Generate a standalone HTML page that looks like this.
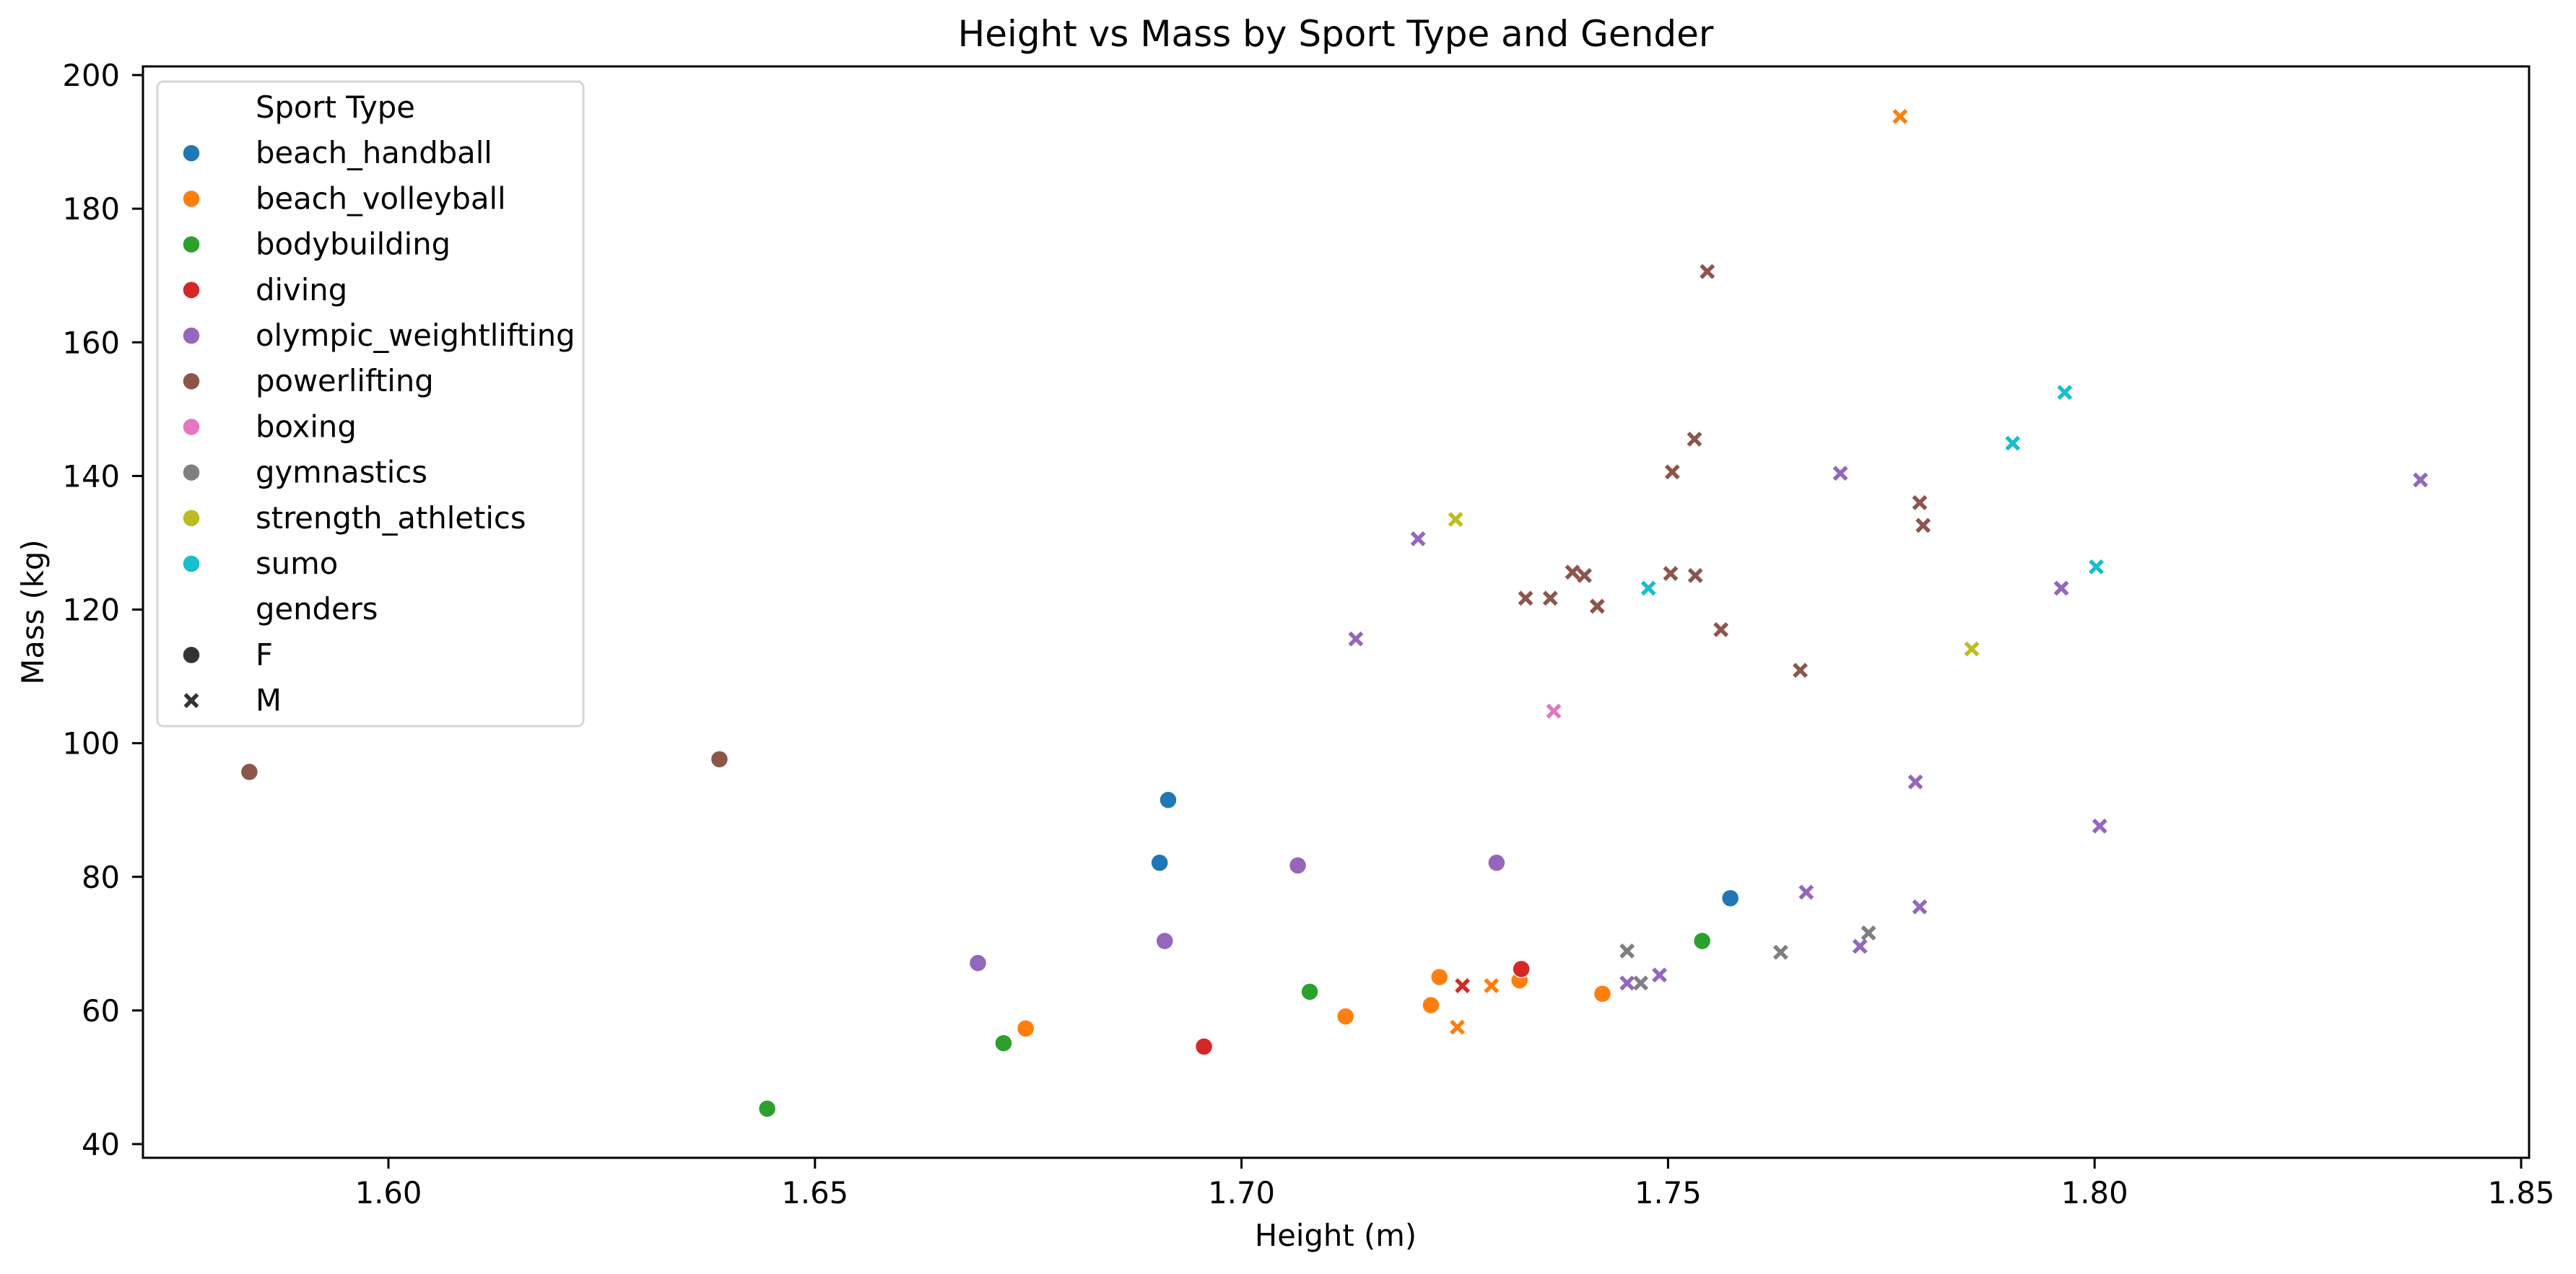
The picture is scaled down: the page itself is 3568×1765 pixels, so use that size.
<!DOCTYPE html>
<html><head><meta charset="utf-8"><style>
html,body{margin:0;padding:0;background:#fff}
svg{display:block;font-family:"DejaVu Sans","Liberation Sans",sans-serif}
</style></head><body>
<svg id="chart" width="3568" height="1765" viewBox="0 0 3568 1765" xmlns="http://www.w3.org/2000/svg">
<rect width="3568" height="1765" fill="#fff"/>
<text x="1850" y="64" font-size="50" text-anchor="middle">Height vs Mass by Sport Type and Gender</text>
<g id="marks"></g>
<g id="axes"></g>
<text x="1850" y="1726" font-size="41.7" text-anchor="middle">Height (m)</text>
<text transform="translate(60,848) rotate(-90)" font-size="41.7" text-anchor="middle">Mass (kg)</text>
<g id="legend"></g>
</svg>
<script>
const sports = ["beach_handball","beach_volleyball","bodybuilding","diving","olympic_weightlifting","powerlifting","boxing","gymnastics","strength_athletics","sumo"];
const colors = ["#1f77b4","#ff7f0e","#2ca02c","#d62728","#9467bd","#8c564b","#e377c2","#7f7f7f","#bcbd22","#17becf"];
const xTicks = [1.60,1.65,1.70,1.75,1.80,1.85];
const yTicks = [40,60,80,100,120,140,160,180,200];
const pointSport = [5,5,0,0,0,4,4,4,4,2,2,2,2,1,1,1,1,1,1,3,3,
 1,1,1,3,5,5,5,5,5,5,5,5,5,5,5,5,5,5,4,4,4,4,4,4,4,4,4,4,4,4,7,7,7,7,8,8,9,9,9,9,6];
const pointGender = ["F","F","F","F","F","F","F","F","F","F","F","F","F","F","F","F","F","F","F","F","F",
 "M","M","M","M","M","M","M","M","M","M","M","M","M","M","M","M","M","M","M","M","M","M","M","M","M","M","M","M","M","M","M","M","M","M","M","M","M","M","M","M","M"];
const heights = [1.5837,1.6388,1.6914,1.6904,1.7573,1.7066,1.7299,1.6691,1.6910,1.6444,1.6721,1.7080,1.7540,1.6747,1.7122,1.7222,1.7232,1.7326,1.7423,1.6956,1.7328,
 1.7772,1.7293,1.7253,1.7259,1.7546,1.7531,1.7505,1.7388,1.7402,1.7362,1.7333,1.7417,1.7503,1.7532,1.7562,1.7655,1.7795,1.7799,1.7207,1.7134,1.7702,1.8382,1.7961,1.7790,1.8006,1.7662,1.7795,1.7725,1.7452,1.7490,1.7452,1.7468,1.7632,1.7735,1.7251,1.7856,1.7965,1.7904,1.7477,1.8002,1.7366];
const masses = [95.7,97.6,91.5,82.1,76.8,81.7,82.1,67.1,70.4,45.3,55.1,62.8,70.4,57.3,59.1,60.8,65.0,64.5,62.5,54.6,66.2,
 193.8,63.7,57.5,63.7,170.6,145.5,140.6,125.6,125.1,121.7,121.7,120.5,125.4,125.1,117.0,110.9,136.0,132.6,130.6,115.6,140.4,139.4,123.2,94.2,87.6,77.7,75.5,69.6,64.1,65.3,68.9,64.1,68.7,71.6,133.5,114.1,152.5,144.9,123.2,126.4,104.8];

const NS="http://www.w3.org/2000/svg";
const L=198,R=3503,T=92,B=1604;
function xs(v){return 538+(v-1.60)/0.25*(3492-538);}
function ys(v){return 1585-(v-40)/160*(1585-104);}
function mk(tag,attrs,parent){const e=document.createElementNS(NS,tag);for(const k in attrs)e.setAttribute(k,attrs[k]);parent.appendChild(e);return e;}
function circle(parent,cx,cy,col){return mk("circle",{cx:cx,cy:cy,r:12,fill:col,stroke:"#fff","stroke-width":1.5},parent);}
function cross(parent,cx,cy,col){
  const g=mk("g",{},parent);
  const d=8.5;
  mk("path",{d:`M${cx-d},${cy-d}L${cx+d},${cy+d}M${cx-d},${cy+d}L${cx+d},${cy-d}`,stroke:col,"stroke-width":5.5,"stroke-linecap":"butt",fill:"none"},g);
  return g;
}
const marks=document.getElementById("marks");
for(let i=0;i<heights.length;i++){
  const col=colors[pointSport[i]];
  const e = pointGender[i]==="F"?circle(marks,xs(heights[i]),ys(masses[i]),col):cross(marks,xs(heights[i]),ys(masses[i]),col);
  
  
}
const axes=document.getElementById("axes");
mk("rect",{x:L,y:T,width:R-L,height:B-T,fill:"none",stroke:"#000","stroke-width":3},axes);
xTicks.forEach(t=>{
  const x=xs(t);
  mk("line",{x1:x,y1:B,x2:x,y2:B+15,stroke:"#000","stroke-width":3},axes);
  const tx=mk("text",{x:x,y:1667,"font-size":41.7,"text-anchor":"middle"},axes);
  tx.textContent=t.toFixed(2);
  
  
});
yTicks.forEach(t=>{
  const y=ys(t);
  mk("line",{x1:L,y1:y,x2:L-15,y2:y,stroke:"#000","stroke-width":3},axes);
  const tx=mk("text",{x:166,y:y+15,"font-size":41.7,"text-anchor":"end"},axes);
  tx.textContent=String(t);
  
  
});
const lg=document.getElementById("legend");
mk("rect",{x:218,y:113,width:590,height:893,rx:8,fill:"#fff","fill-opacity":0.8,stroke:"#d6d6d6","stroke-width":3},lg);
const rows=[{t:"Sport Type"}];
sports.forEach((s,i)=>rows.push({t:s,c:colors[i],m:"o"}));
rows.push({t:"genders"});rows.push({t:"F",c:"#333",m:"o"});rows.push({t:"M",c:"#333",m:"x"});
rows.forEach((r,i)=>{
  const y=149+i*63.2;
  const g=mk("g",{},lg);
  
  
  if(r.m==="o")circle(g,265,y,r.c);
  else if(r.m==="x")cross(g,265,y,r.c);
  const tx=mk("text",{x:354,y:y+14,"font-size":41.7},g);
  tx.textContent=r.t;
});
</script>
</body></html>
